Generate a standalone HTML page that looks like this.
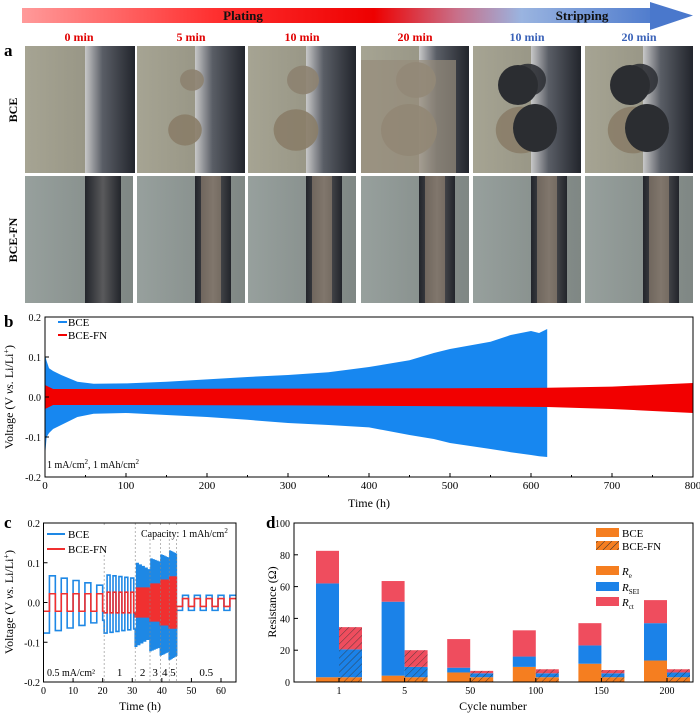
<!DOCTYPE html>
<html><head><meta charset="utf-8"><style>
body{margin:0;background:#fff}
svg text{font-family:"Liberation Serif",serif}
</style></head><body>
<svg id="fig" width="700" height="716" viewBox="0 0 700 716" xmlns="http://www.w3.org/2000/svg">
<defs>
<linearGradient id="arrowGrad" x1="0" x2="1" y1="0" y2="0">
<stop offset="0" stop-color="#ff9a9a"/><stop offset="0.3" stop-color="#ff3030"/><stop offset="0.55" stop-color="#ee0000"/><stop offset="0.68" stop-color="#c8708a"/><stop offset="0.78" stop-color="#9ab4e0"/><stop offset="1" stop-color="#4a78cc"/>
</linearGradient>
<linearGradient id="bgA" x1="0" x2="1"><stop offset="0" stop-color="#a6a493"/><stop offset="1" stop-color="#8e8c7c"/></linearGradient>
<linearGradient id="bgB" x1="0" x2="1"><stop offset="0" stop-color="#97a09d"/><stop offset="1" stop-color="#7f8784"/></linearGradient>
<linearGradient id="elA" x1="0" x2="1"><stop offset="0" stop-color="#c8c8c8"/><stop offset="0.35" stop-color="#5a5e66"/><stop offset="1" stop-color="#22252c"/></linearGradient>
<linearGradient id="elB" x1="0" x2="1"><stop offset="0" stop-color="#22252b"/><stop offset="0.5" stop-color="#5a5a5c"/><stop offset="1" stop-color="#22252b"/></linearGradient>
<pattern id="hatch" width="5" height="5" patternUnits="userSpaceOnUse" patternTransform="rotate(45)"><line x1="0" y1="0" x2="0" y2="5" stroke="#333" stroke-width="1"/></pattern>
</defs>
<g id="top">
<rect x="22" y="8" width="640" height="15" fill="url(#arrowGrad)"/>
<polygon points="650,2 693,15.5 650,30" fill="#4a78cc"/>
<text x="243" y="20" font-size="13" font-weight="bold" text-anchor="middle" fill="#111">Plating</text>
<text x="582" y="20" font-size="13" font-weight="bold" text-anchor="middle" fill="#111">Stripping</text>
</g>
<g id="photos"></g>
<text x="4" y="56" font-size="17" font-weight="bold">a</text>
<text transform="translate(17,110) rotate(-90)" font-size="12" font-weight="bold" text-anchor="middle">BCE</text>
<text transform="translate(17,240) rotate(-90)" font-size="12" font-weight="bold" text-anchor="middle">BCE-FN</text>
<g id="pb"></g>
<g id="pc"></g>
<g id="pd"></g>
</svg>
<script>
const NS="http://www.w3.org/2000/svg";
function el(tag,attrs,parent,txt){const e=document.createElementNS(NS,tag);for(const k in attrs)e.setAttribute(k,attrs[k]);if(txt!==undefined)e.textContent=txt;parent.appendChild(e);return e;}

// ---------- Panel a ----------
const timeLabels=["0 min","5 min","10 min","20 min","10 min","20 min"];
const timeColors=["#e00000","#e00000","#e00000","#e00000","#3a62b8","#3a62b8"];
const colX=[25,137,248,361,473,585];
const blobSize=[0,0.6,0.8,1.0,0.9,0.9];
const ph=document.getElementById('photos');
colX.forEach((x,i)=>{
  const t=el('text',{x:x+54,y:41,'font-size':12,'font-weight':'bold','text-anchor':'middle',fill:timeColors[i]},ph,timeLabels[i]);
  
  
  const g1=el('g',{},ph);
  
  
  el('rect',{x:x,y:46,width:108,height:127,fill:'url(#bgA)'},g1);
  el('rect',{x:x+(i==0?60:58),y:46,width:50,height:127,fill:'url(#elA)'},g1);
  const s=blobSize[i];
  if(s>0){
    const c=i>=4?'#2b2d31':'#8a7e6a';
    el('ellipse',{cx:x+55,cy:80,rx:20*s,ry:18*s,fill:i>=4?'#2f3136':'#8d8270',opacity:0.9},g1);
    el('ellipse',{cx:x+48,cy:130,rx:28*s,ry:26*s,fill:'#8a7d68',opacity:0.9},g1);
    if(i>=4){el('ellipse',{cx:x+62,cy:128,rx:22,ry:24,fill:c},g1);el('ellipse',{cx:x+45,cy:85,rx:20,ry:20,fill:c},g1);}
    if(i==3)el('rect',{x:x,y:60,width:95,height:113,fill:'#968c7a',opacity:0.7},g1);
  }
  const g2=el('g',{},ph);
  
  
  el('rect',{x:x,y:176,width:108,height:127,fill:'url(#bgB)'},g2);
  el('rect',{x:x+(i==0?60:58),y:176,width:36,height:127,fill:'url(#elB)'},g2);
  if(i>0) el('rect',{x:x+64,y:176,width:20,height:127,fill:'#a08e7a',opacity:0.55},g2);
});

// ---------- Panel b ----------
const bTimes=[0,2,5,10,20,40,60,100,150,200,250,300,350,400,450,480,500,550,575,600,610,620];
const bceUpper=[0.105,0.09,0.072,0.065,0.055,0.038,0.033,0.034,0.038,0.044,0.05,0.055,0.062,0.075,0.092,0.11,0.12,0.138,0.155,0.165,0.16,0.17];
const bceLower=[-0.15,-0.1,-0.09,-0.08,-0.07,-0.05,-0.042,-0.04,-0.045,-0.05,-0.057,-0.065,-0.07,-0.076,-0.095,-0.105,-0.115,-0.13,-0.138,-0.145,-0.148,-0.15];
const fnTimes=[0,5,10,100,300,500,620,700,800];
const fnUpper=[0.03,0.025,0.02,0.02,0.021,0.022,0.023,0.026,0.035];
const fnLower=[-0.03,-0.025,-0.02,-0.02,-0.021,-0.023,-0.025,-0.03,-0.04];
const bXTicks=[0,100,200,300,400,500,600,700,800];
const bYTicks=[-0.2,-0.1,0,0.1,0.2];
const bYLabels=["-0.2","-0.1","0.0","0.1","0.2"];
const bx=v=>45+v/800*648, by=v=>397-v/0.2*80;
const pb=document.getElementById('pb');
function envelope(ts,up,lo,fx,fy){let p=ts.map((t,i)=>fx(t)+','+fy(up[i]));for(let i=ts.length-1;i>=0;i--)p.push(fx(ts[i])+','+fy(lo[i]));return p.join(' ');}
const bBce=el('polygon',{points:envelope(bTimes,bceUpper,bceLower,bx,by),fill:'#1787f0'},pb);


const bFn=el('polygon',{points:envelope(fnTimes,fnUpper,fnLower,bx,by),fill:'#f20000'},pb);


el('rect',{x:45,y:317,width:648,height:160,fill:'none',stroke:'#000','stroke-width':1},pb);
bXTicks.forEach(v=>{el('line',{x1:bx(v),x2:bx(v),y1:477,y2:473,stroke:'#000'},pb);
  const t=el('text',{x:bx(v),y:489,'font-size':11,'text-anchor':'middle'},pb,String(v));
  
  if(v<800)el('line',{x1:bx(v+50),x2:bx(v+50),y1:477,y2:475,stroke:'#000'},pb);});
bYTicks.forEach((v,i)=>{el('line',{x1:45,x2:49,y1:by(v),y2:by(v),stroke:'#000'},pb);
  const t=el('text',{x:41,y:by(v)+4,'font-size':10,'text-anchor':'end'},pb,bYLabels[i]);
  });
let t;
t=el('text',{x:369,y:507,'font-size':12,'text-anchor':'middle'},pb,'Time (h)');
t=el('text',{transform:'translate(13,397) rotate(-90)','font-size':12,'text-anchor':'middle'},pb);
t.innerHTML='Voltage (V <tspan font-style="italic">vs.</tspan> Li/Li<tspan dy="-4" font-size="8">+</tspan><tspan dy="4">)</tspan>';
t=el('text',{x:4,y:327,'font-size':17,'font-weight':'bold'},pb,'b');
el('line',{x1:58,x2:67,y1:322,y2:322,stroke:'#1787f0','stroke-width':2},pb);
el('line',{x1:58,x2:67,y1:335,y2:335,stroke:'#f20000','stroke-width':2},pb);
t=el('text',{x:68,y:326,'font-size':11},pb,'BCE');
t=el('text',{x:68,y:339,'font-size':11},pb,'BCE-FN');
t=el('text',{x:47,y:468,'font-size':10},pb);t.innerHTML='1 mA/cm<tspan dy="-4" font-size="7">2</tspan><tspan dy="4">, 1 mAh/cm</tspan><tspan dy="-4" font-size="7">2</tspan>';


// ---------- Panel c ----------
const segStart=[0,20.5,31,36,39.5,42.5,45];
const segEnd=[20.5,31,36,39.5,42.5,45,65];
const segCurrent=[0.5,1,2,3,4,5,0.5];
const segLabels=["0.5 mA/cm²","1","2","3","4","5","0.5"];
const bceAmpStart=[0.07,0.07,0.1,0.11,0.12,0.13,0.018];
const bceAmpEnd=[0.04,0.06,0.08,0.1,0.11,0.12,0.018];
const fnAmp=[0.022,0.026,0.036,0.046,0.056,0.064,0.01];
const cXTicks=[0,10,20,30,40,50,60];
const cYTicks=[-0.2,-0.1,0,0.1,0.2];
const cYLabels=["-0.2","-0.1","0.0","0.1","0.2"];
const cx=v=>43.5+v/60*177.5, cy=v=>602.5-v/0.2*79.5;
const pc=document.getElementById('pc');
function sq(ampS,ampE,scale){let pts=[];segStart.forEach((s,i)=>{const h=1/segCurrent[i];let sign=-1;for(let tt=s;tt<segEnd[i]-1e-6;tt+=h){const e=Math.min(tt+h,segEnd[i]);const f=(tt-s)/(segEnd[i]-s);const a=(ampS[i]+(ampE[i]-ampS[i])*f)*sign*(sign<0?scale:1);pts.push(cx(tt)+','+cy(a));pts.push(cx(e)+','+cy(a));sign=-sign;}});return pts.join(' ');}
const cB=el('polyline',{points:sq(bceAmpStart,bceAmpEnd,1.1),fill:'none',stroke:'#1e88e5','stroke-width':1.6},pc);

const cF=el('polyline',{points:sq(fnAmp,fnAmp,1),fill:'none',stroke:'#f03030','stroke-width':1.6},pc);

segStart.slice(1).forEach(s=>el('line',{x1:cx(s),x2:cx(s),y1:523,y2:682,stroke:'#888','stroke-width':0.6,'stroke-dasharray':'2,2'},pc));
segStart.forEach((s,i)=>{const mid=i==0?null:(s+segEnd[i])/2;
  const tx=el('text',{x:i==0?47:cx(mid),y:676,'font-size':i==0?10:11,'text-anchor':i==0?'start':'middle'},pc,segLabels[i]);
  });
el('rect',{x:43.5,y:523,width:192.5,height:159,fill:'none',stroke:'#000'},pc);
cXTicks.forEach(v=>{el('line',{x1:cx(v),x2:cx(v),y1:682,y2:678,stroke:'#000'},pc);
  const tx=el('text',{x:cx(v),y:694,'font-size':10,'text-anchor':'middle'},pc,String(v));
  });
cYTicks.forEach((v,i)=>{el('line',{x1:43.5,x2:47.5,y1:cy(v),y2:cy(v),stroke:'#000'},pc);
  const tx=el('text',{x:40,y:cy(v)+4,'font-size':10,'text-anchor':'end'},pc,cYLabels[i]);
  });
t=el('text',{x:140,y:710,'font-size':12,'text-anchor':'middle'},pc,'Time (h)');
t=el('text',{transform:'translate(13,602) rotate(-90)','font-size':12,'text-anchor':'middle'},pc);
t.innerHTML='Voltage (V <tspan font-style="italic">vs.</tspan> Li/Li<tspan dy="-4" font-size="8">+</tspan><tspan dy="4">)</tspan>';
t=el('text',{x:4,y:528,'font-size':17,'font-weight':'bold'},pc,'c');
el('rect',{x:46,y:527,width:62,height:28,fill:'#fff'},pc);
el('line',{x1:47,x2:65,y1:534,y2:534,stroke:'#1e88e5','stroke-width':2},pc);
el('line',{x1:47,x2:65,y1:549,y2:549,stroke:'#f03030','stroke-width':2},pc);
t=el('text',{x:68,y:538,'font-size':11},pc,'BCE');
t=el('text',{x:68,y:553,'font-size':11},pc,'BCE-FN');
el('rect',{x:140,y:526,width:95,height:13,fill:'#fff'},pc);
t=el('text',{x:141,y:537,'font-size':10},pc);t.innerHTML='Capacity: 1 mAh/cm<tspan dy="-4" font-size="7">2</tspan>';


// ---------- Panel d ----------
const cycles=["1","5","50","100","150","200"];
const bceRe=[3,4,6,9.5,11.5,13.5];
const bceSei=[59,46.5,3,6.5,11.5,23.5];
const bceCt=[20.5,13,18,16.5,14,14.5];
const fnRe=[3,3,3,3,3,3];
const fnSei=[17.5,6.5,2.5,2.5,2.5,3];
const fnCt=[14,10.5,1.5,2.5,2,2];
const dYTicks=[0,20,40,60,80,100];
const dx=i=>339+i*65.6, dy=v=>682-v/100*159;
const pd=document.getElementById('pd');
const cols={re:'#f57e20',sei:'#1b82e8',ct:'#ef4d5e'};
function stack(i,x,re,sei,ct,hatched,name){
  let base=0;[[re,cols.re,'re'],[sei,cols.sei,'sei'],[ct,cols.ct,'ct']].forEach(([v,c,k])=>{
    const r=el('rect',{x:x,y:dy(base+v),width:23,height:dy(base)-dy(base+v),fill:c},pd);
    
    if(hatched)el('rect',{x:x,y:dy(base+v),width:23,height:dy(base)-dy(base+v),fill:'url(#hatch)',opacity:0.8},pd);
    base+=v;});
}
cycles.forEach((c,i)=>{stack(i,dx(i)-23,bceRe[i],bceSei[i],bceCt[i],false,'bce');stack(i,dx(i),fnRe[i],fnSei[i],fnCt[i],true,'bcefn');});
el('rect',{x:294,y:523,width:399,height:159,fill:'none',stroke:'#000'},pd);
dYTicks.forEach(v=>{el('line',{x1:294,x2:298,y1:dy(v),y2:dy(v),stroke:'#000'},pd);
  const tx=el('text',{x:290,y:dy(v)+4,'font-size':10,'text-anchor':'end'},pd,String(v));
  });
cycles.forEach((c,i)=>{el('line',{x1:dx(i),x2:dx(i),y1:682,y2:678,stroke:'#000'},pd);
  const tx=el('text',{x:dx(i),y:694,'font-size':10,'text-anchor':'middle'},pd,c);
  });
t=el('text',{x:493,y:710,'font-size':12,'text-anchor':'middle'},pd,'Cycle number');
t=el('text',{transform:'translate(276,602) rotate(-90)','font-size':12,'text-anchor':'middle'},pd,'Resistance (Ω)');
t=el('text',{x:266,y:528,'font-size':17,'font-weight':'bold'},pd,'d');
const leg=[[533,cols.re,false,'BCE'],[546,cols.re,true,'BCE-FN'],[571,cols.re,false,'R','e'],[587,cols.sei,false,'R','SEI'],[602,cols.ct,false,'R','ct']];
leg.forEach(([y,c,h,lab,sub])=>{el('rect',{x:596,y:y-5,width:23,height:9,fill:c},pd);if(h)el('rect',{x:596,y:y-5,width:23,height:9,fill:'url(#hatch)'},pd);
  const tx=el('text',{x:622,y:y+4,'font-size':11},pd);
  
  tx.innerHTML=sub?'<tspan font-style="italic">'+lab+'</tspan><tspan dy="3" font-size="7">'+sub+'</tspan>':lab;});
</script>
</body></html>
